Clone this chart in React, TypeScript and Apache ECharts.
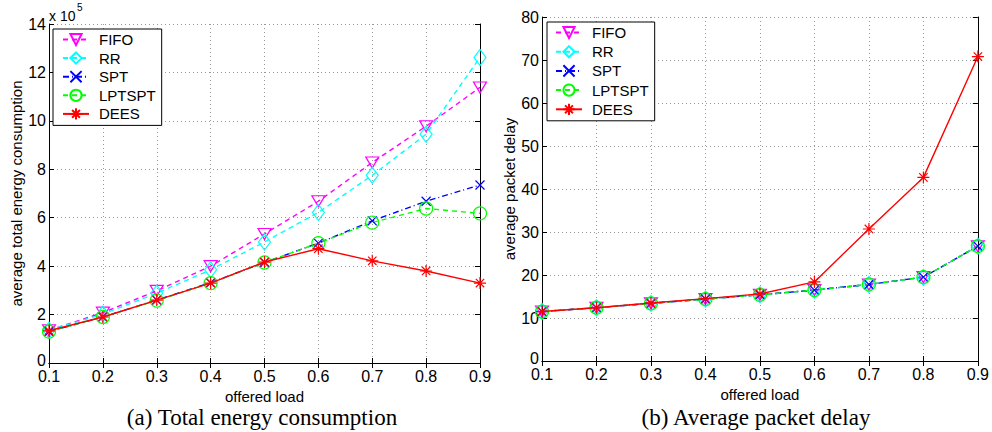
import React, { useEffect, useRef } from "react";
import * as echarts from "echarts";

const loads = ["0.1", "0.2", "0.3", "0.4", "0.5", "0.6", "0.7", "0.8", "0.9"];
const seriesNames = ["FIFO", "RR", "SPT", "LPTSPT", "DEES"];

// total energy consumption, in units of 10^5
const energyFIFO = [1.35, 2.08, 2.98, 4.0, 5.33, 6.68, 8.28, 9.78, 11.38];
const energyRR = [1.35, 2.02, 2.88, 3.85, 5.0, 6.22, 7.75, 9.45, 12.62];
const energySPT = [1.3, 1.9, 2.6, 3.32, 4.15, 4.95, 5.87, 6.68, 7.35];
const energyLPTSPT = [1.3, 1.9, 2.58, 3.3, 4.15, 4.95, 5.8, 6.38, 6.18];
const energyDEES = [1.33, 1.9, 2.6, 3.3, 4.17, 4.72, 4.22, 3.8, 3.3];

// average packet delay
const delayFIFO = [11.5, 12.4, 13.4, 14.4, 15.4, 16.5, 17.8, 19.5, 26.7];
const delayRR = [11.5, 12.4, 13.4, 14.4, 15.4, 16.5, 17.8, 19.5, 26.7];
const delaySPT = [11.5, 12.4, 13.4, 14.4, 15.4, 16.5, 17.8, 19.5, 26.7];
const delayLPTSPT = [11.5, 12.4, 13.4, 14.4, 15.4, 16.5, 17.8, 19.5, 26.7];
const delayDEES = [11.5, 12.4, 13.5, 14.5, 15.6, 18.4, 30.7, 42.7, 70.8];

const FONT = "'Liberation Sans', Arial, Helvetica, sans-serif";
const SERIF = "'Liberation Serif', 'Times New Roman', serif";

const styles: Record<string, any> = {
  FIFO: {
    color: "#ff00ff",
    type: [5, 4],
    symbol: "path://M0,0L14,0L7,12Z",
    symbolSize: [13, 11],
  },
  RR: {
    color: "#00ffff",
    type: [5, 4],
    symbol: "diamond",
    symbolSize: [12, 16],
  },
  SPT: {
    color: "#0000ff",
    type: [6, 3, 1, 3],
    symbol: "path://M0,0L10,10M10,0L0,10",
    symbolSize: 9,
  },
  LPTSPT: {
    color: "#00ff00",
    type: [5, 4],
    symbol: "circle",
    symbolSize: 13,
  },
  DEES: {
    color: "#ff0000",
    type: "solid",
    symbol: "path://M0,6L12,6M6,0L6,12M1.8,1.8L10.2,10.2M10.2,1.8L1.8,10.2",
    symbolSize: 12,
  },
};

function makeSeries(name: string, data: number[], axisIndex: number) {
  const s = styles[name];
  return {
    name,
    type: "line",
    xAxisIndex: axisIndex,
    yAxisIndex: axisIndex,
    data,
    symbol: s.symbol,
    symbolSize: s.symbolSize,
    symbolKeepAspect: false,
    showAllSymbol: true,
    color: s.color,
    lineStyle: { color: s.color, width: 1.4, type: s.type },
    itemStyle: { color: "rgba(0,0,0,0)", borderColor: s.color, borderWidth: 1.2 },
    emphasis: { disabled: true },
    z: name === "DEES" ? 6 : 3,
  };
}

function xAxes(gridIndex: number) {
  return [
    {
      gridIndex,
      type: "category",
      data: loads,
      boundaryGap: false,
      axisLine: { lineStyle: { color: "#000", width: 1 } },
      axisTick: { inside: true, length: 5, lineStyle: { color: "#000" } },
      axisLabel: { fontSize: 16, lineHeight: 15, color: "#000", fontFamily: FONT, margin: 6 },
      splitLine: { show: true, lineStyle: { color: "#999", type: [1, 3] } },
      name: "offered load",
      nameLocation: "middle",
      nameGap: 21,
      nameTextStyle: { fontSize: 15, lineHeight: 15, color: "#000", fontFamily: FONT },
    },
    {
      gridIndex,
      type: "category",
      data: loads,
      boundaryGap: false,
      position: "top",
      axisLine: { lineStyle: { color: "#000", width: 1 } },
      axisTick: { inside: true, length: 5, lineStyle: { color: "#000" } },
      axisLabel: { show: false },
      splitLine: { show: false },
    },
  ];
}

function yAxes(gridIndex: number, max: number, interval: number, name: string, nameGap: number) {
  return [
    {
      gridIndex,
      type: "value",
      min: 0,
      max,
      interval,
      axisLine: { show: true, lineStyle: { color: "#000", width: 1 } },
      axisTick: { show: true, inside: true, length: 5, lineStyle: { color: "#000" } },
      axisLabel: {
        fontSize: 16,
        lineHeight: 13,
        color: "#000",
        fontFamily: FONT,
        margin: 3,
        formatter: (v: number) => (v === 0 ? "{z|0}" : String(v)),
        rich: { z: { fontSize: 16, lineHeight: 13, fontFamily: FONT, color: "#000", padding: [0, 0, 6, 0] } },
      },
      splitLine: { show: true, lineStyle: { color: "#999", type: [1, 3] } },
      name,
      nameLocation: "middle",
      nameGap,
      nameTextStyle: { fontSize: 15, color: "#000", fontFamily: FONT },
    },
    {
      gridIndex,
      type: "value",
      min: 0,
      max,
      interval,
      position: "right",
      axisLine: { show: true, lineStyle: { color: "#000", width: 1 } },
      axisTick: { show: true, inside: true, length: 5, lineStyle: { color: "#000" } },
      axisLabel: { show: false },
      splitLine: { show: false },
    },
  ];
}

function legend(left: number, top: number, gap: number, padding: number[]) {
  return {
    left,
    top,
    orient: "vertical",
    data: seriesNames,
    backgroundColor: "#fff",
    borderColor: "#000",
    borderWidth: 1,
    borderRadius: 0,
    padding,
    itemGap: gap,
    itemWidth: 26,
    itemHeight: 14,
    selectedMode: false,
    textStyle: { fontSize: 15, color: "#000", fontFamily: FONT, padding: [0, 0, 0, 5] },
  };
}

export default function App() {
  const ref = useRef<HTMLDivElement>(null);
  useEffect(() => {
    if (!ref.current) return;
    const chart = echarts.init(ref.current, undefined, { renderer: "svg" });
    chart.setOption({
      animation: false,
      backgroundColor: "#fff",
      grid: [
        { left: 49, top: 24, width: 431, height: 339 },
        { left: 542, top: 17, width: 439, height: 344 },
      ],
      xAxis: [...xAxes(0), ...xAxes(1)],
      yAxis: [
        ...yAxes(0, 14, 2, "average total energy consumption", 24),
        ...yAxes(1, 80, 10, "average packet delay", 24),
      ],
      legend: [legend(53, 29, 3.6, [3, 6, 4, 9]), legend(547, 22, 4.2, [3, 6, 4, 8])],
      series: [
        makeSeries("FIFO", energyFIFO, 0),
        makeSeries("RR", energyRR, 0),
        makeSeries("SPT", energySPT, 0),
        makeSeries("LPTSPT", energyLPTSPT, 0),
        makeSeries("DEES", energyDEES, 0),
        makeSeries("FIFO", delayFIFO, 2),
        makeSeries("RR", delayRR, 2),
        makeSeries("SPT", delaySPT, 2),
        makeSeries("LPTSPT", delayLPTSPT, 2),
        makeSeries("DEES", delayDEES, 2),
      ],
      graphic: [
        {
          type: "text",
          x: 49,
          y: 9,
          style: { text: "x 10", font: `14px ${FONT}`, fill: "#000" },
        },
        {
          type: "text",
          x: 77,
          y: 2,
          style: { text: "5", font: `10px ${FONT}`, fill: "#000" },
        },
        {
          type: "text",
          x: 262,
          y: 417,
          style: {
            text: "(a) Total energy consumption",
            font: `23px ${SERIF}`,
            lineHeight: 22,
            fill: "#000",
            textAlign: "center",
            textVerticalAlign: "middle",
          },
        },
        {
          type: "text",
          x: 756,
          y: 417,
          style: {
            text: "(b) Average packet delay",
            font: `23px ${SERIF}`,
            lineHeight: 22,
            fill: "#000",
            textAlign: "center",
            textVerticalAlign: "middle",
          },
        },
      ],
    });
    return () => chart.dispose();
  }, []);
  return (
    <div
      ref={ref}
      style={{ position: "fixed", left: 0, top: 0, width: 992, height: 432, background: "#fff" }}
    />
  );
}
